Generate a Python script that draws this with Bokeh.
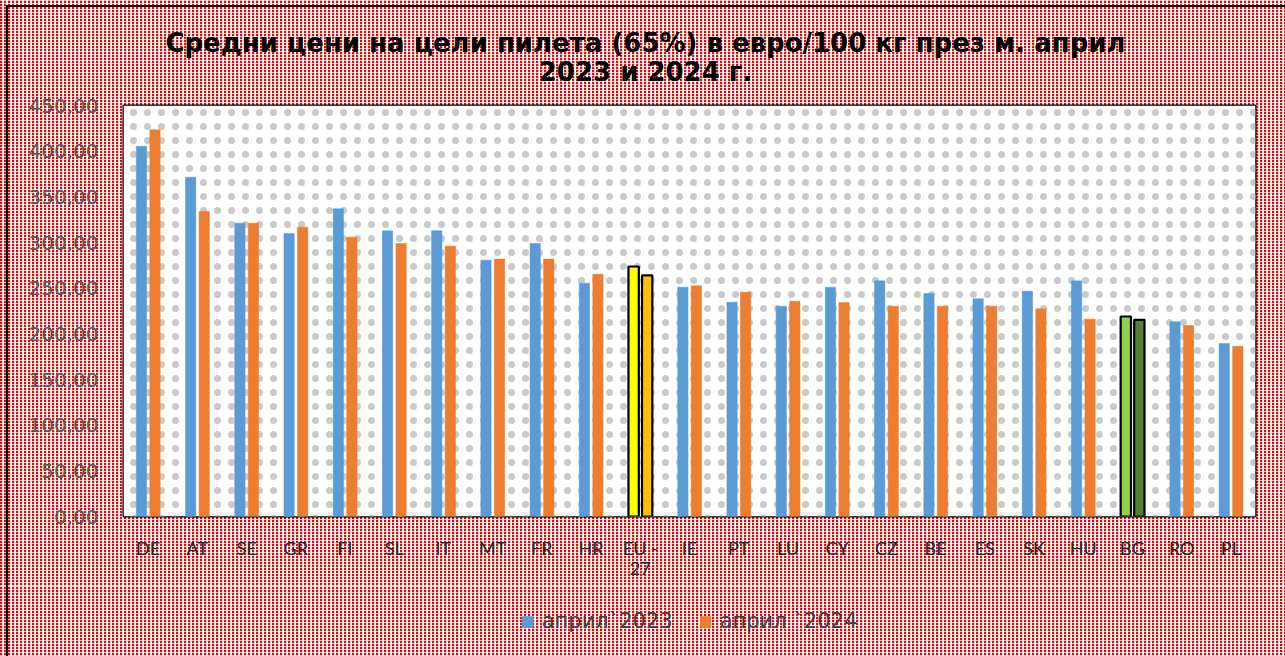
from bokeh.plotting import figure
from bokeh.models import (Range1d, Legend, LegendItem, CustomJSTickFormatter, Div,
                          ColumnDataSource, BoxAnnotation, CategoricalAxis)
from bokeh.layouts import column
from bokeh.transform import dodge
from bokeh.embed import file_html
from bokeh.resources import INLINE

# ---- data ----
countries = ["DE", "AT", "SE", "GR", "FI", "SL", "IT", "MT", "FR", "HR", "EU - 27", "IE",
             "PT", "LU", "CY", "CZ", "BE", "ES", "SK", "HU", "BG", "RO", "PL"]
apr_2023 = [405.4, 371.5, 321.2, 309.9, 336.9, 312.8, 312.8, 280.7, 298.9, 255.5, 273.7, 251.1,
            234.6, 230.3, 251.1, 258.0, 244.2, 238.3, 246.7, 258.0, 219.0, 213.2, 189.4]
apr_2024 = [423.4, 334.0, 321.2, 316.8, 305.8, 298.9, 296.0, 281.8, 281.8, 265.3, 263.9, 252.6,
            245.6, 235.7, 234.3, 230.3, 230.3, 230.3, 227.4, 216.1, 215.3, 209.1, 186.5]
series_labels = ["април`2023", "април `2024"]
title_lines = ["Средни цени на цели пилета (65%) в евро/100 кг през м. април",
               "2023 и 2024 г."]
y_ticks = [0, 50, 100, 150, 200, 250, 300, 350, 400, 450]
wrapped = {"EU - 27": ["EU -", "27"]}   # category label shown on two lines

# ---- styles ----
BLUE, ORANGE = "#5B9BD5", "#ED7D31"
highlight = {"EU - 27": ("#FFFF00", "#FFC000"), "BG": ("#92D050", "#548235")}
W = 1285

stripes = ("repeating-linear-gradient(0deg, rgba(255,255,255,0.75) 0px, "
           "rgba(255,255,255,0.75) 1px, rgba(255,255,255,0) 1px, rgba(255,255,255,0) 3px), "
           "repeating-linear-gradient(90deg, #CC1414 0px, #CC1414 2px, "
           "#F4C8C8 2px, #F4C8C8 3px, #ffffff 3px, #ffffff 4px)")

def bg(top_line):
    if top_line:
        return {"background-color": "#ffffff",
                "background-image": "linear-gradient(#000, #000), linear-gradient(#000, #000), " + stripes,
                "background-size": "100% 2px, 2px 100%, auto, auto",
                "background-position": "6px 5px, 6px 5px, 0 0, 0 0",
                "background-repeat": "no-repeat, no-repeat, repeat, repeat"}
    return {"background-color": "#ffffff",
            "background-image": "linear-gradient(#000, #000), " + stripes,
            "background-size": "2px 100%, auto, auto",
            "background-position": "6px 0px, 0 0, 0 0",
            "background-repeat": "no-repeat, repeat, repeat"}

c1 = [highlight[c][0] if c in highlight else BLUE for c in countries]
c2 = [highlight[c][1] if c in highlight else ORANGE for c in countries]
lc1 = ["black" if c in highlight else col for c, col in zip(countries, c1)]
lc2 = ["black" if c in highlight else col for c, col in zip(countries, c2)]
lw = [2.2 if c in highlight else 0.5 for c in countries]

src = ColumnDataSource(dict(x=countries, y1=apr_2023, y2=apr_2024,
                            c1=c1, c2=c2, lc1=lc1, lc2=lc2, lw=lw))

# ---- title block ----
title_html = ("<div style=\"width:%dpx;text-align:center;font-family:'DejaVu Sans';"
              "font-weight:bold;font-size:26px;line-height:29px;color:#000;"
              "padding-top:29px;padding-left:6px;box-sizing:border-box;\">%s</div>"
              % (W, "<br>".join(title_lines)))
title_div = Div(text=title_html, width=W, height=91, margin=0, styles=bg(True))

# ---- main chart ----
p = figure(x_range=countries, y_range=Range1d(0, 450),
           frame_width=1132, frame_height=411,
           output_backend="svg", toolbar_location=None, title=None,
           min_border_left=123, min_border_right=30, min_border_top=14, min_border_bottom=70)
p.styles = bg(False)
p.margin = 0
p.border_fill_alpha = 0
p.background_fill_color = "white"

# dotted frame background
p.add_layout(BoxAnnotation(fill_color="white", fill_alpha=1, line_alpha=0,
                           hatch_pattern=".", hatch_color="#CACACA", hatch_scale=14,
                           hatch_weight=1.6, level="underlay"))

p.outline_line_color = "black"
p.outline_line_width = 2

r1 = p.vbar(x=dodge("x", -0.135, range=p.x_range), top="y1", width=0.21, source=src,
            fill_color="c1", line_color="lc1", line_width="lw")
r2 = p.vbar(x=dodge("x", 0.14, range=p.x_range), top="y2", width=0.21, source=src,
            fill_color="c2", line_color="lc2", line_width="lw")

p.xgrid.grid_line_color = None
p.ygrid.grid_line_color = "#D6D6D6"
p.ygrid.grid_line_width = 2
p.ygrid.ticker = y_ticks

p.yaxis.ticker = y_ticks
p.yaxis.formatter = CustomJSTickFormatter(code="return tick.toFixed(2).replace('.', ',');")
p.yaxis.major_label_text_font = "DejaVu Sans"
p.yaxis.major_label_text_font_size = "20px"
p.yaxis.major_label_text_color = "#595959"
p.yaxis.major_tick_line_color = None
p.yaxis.minor_tick_line_color = None
p.yaxis.axis_line_color = None
p.yaxis.major_label_standoff = 19

def style_xaxis(ax, standoff, tick_out):
    ax.major_label_text_font = "Lato"
    ax.major_label_text_font_size = "18px"
    ax.major_label_text_color = "#262626"
    ax.major_tick_line_color = None
    ax.minor_tick_line_color = None
    ax.major_tick_out = tick_out
    ax.major_tick_in = 0
    ax.axis_line_color = None
    ax.major_label_standoff = standoff

xa = p.xaxis[0]
xa.formatter = CustomJSTickFormatter(args=dict(wrapped=wrapped),
                                     code="return (tick in wrapped) ? wrapped[tick][0] : tick;")
style_xaxis(xa, 14, 6)
xa2 = CategoricalAxis(formatter=CustomJSTickFormatter(
    args=dict(wrapped=wrapped), code="return (tick in wrapped) ? wrapped[tick][1] : '';"))
style_xaxis(xa2, 0, 0)
p.add_layout(xa2, "below")
p.x_range.range_padding = 0

# ---- legend strip (series swatches; its bars lie outside its visible y range) ----
p2 = figure(width=W, height=70, x_range=p.x_range, y_range=Range1d(1000, 1001),
            output_backend="svg", toolbar_location=None, min_border=0)
p2.styles = bg(False)
p2.margin = 0
p2.axis.visible = False
p2.grid.visible = False
p2.outline_line_color = None
p2.background_fill_alpha = 0
p2.border_fill_alpha = 0
k1 = p2.vbar(x="x", top="y1", width=0.2, source=src, fill_color=BLUE, line_color=BLUE)
k2 = p2.vbar(x="x", top="y2", width=0.2, source=src, fill_color=ORANGE, line_color=ORANGE)
legend = Legend(items=[LegendItem(label=series_labels[0], renderers=[k1]),
                       LegendItem(label=series_labels[1], renderers=[k2])],
                orientation="horizontal", location="center",
                label_text_font="DejaVu Sans", label_text_font_size="21px",
                label_text_color="#404040", glyph_width=13, glyph_height=13,
                label_standoff=8, spacing=26, padding=8,
                background_fill_alpha=0, border_line_alpha=0, margin=0)
p2.add_layout(legend)

layout = column(title_div, p, p2, spacing=0, margin=0)
open("out.html", "w").write(file_html(layout, INLINE))
